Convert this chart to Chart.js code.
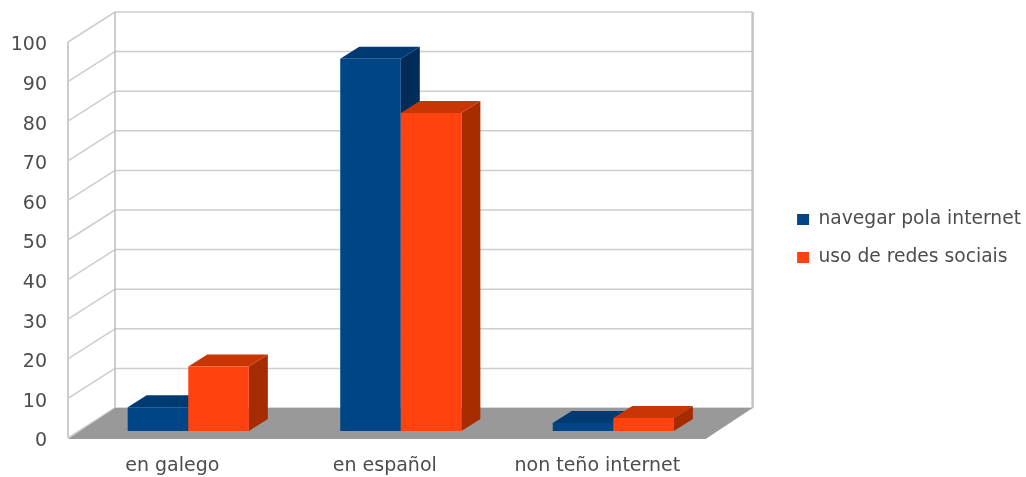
<!DOCTYPE html>
<html>
<head>
<meta charset="utf-8">
<title>navegar pola internet / uso de redes sociais</title>
<script src="https://cdn.jsdelivr.net/npm/chart.js"></script>
<style>
    body { margin: 0; background: #ffffff; }
    canvas { display: block; filter: blur(0.5px); }
</style>
</head>
<body>
<canvas id="chart" width="1026" height="477"></canvas>
<script>
const categories = ['en galego', 'en español', 'non teño internet'];
const navegar = [6, 94, 2];
const redes = [16.3, 80.3, 3.3];
const yTicks = [0, 10, 20, 30, 40, 50, 60, 70, 80, 90, 100];

// Fake 3D: the scales give the front plane, everything else is offset from it
const WALL = { dx: 47, dy: -30 };
const BAR_SHIFT = { dx: 14, dy: -7 };
const BAR_DEPTH = { dx: 19, dy: -12 };
const GRID = '#cdcdcd';
const FACES = [
    { top: '#003a73', side: '#002c5a' },
    { top: '#c93505', side: '#a62c00' }
];

function poly(ctx, pts, fill) {
    ctx.beginPath();
    pts.forEach((p, i) => i ? ctx.lineTo(p[0], p[1]) : ctx.moveTo(p[0], p[1]));
    ctx.closePath();
    ctx.fillStyle = fill;
    ctx.fill();
}

function line(ctx, x1, y1, x2, y2, color, width) {
    ctx.beginPath();
    ctx.moveTo(x1, y1);
    ctx.lineTo(x2, y2);
    ctx.strokeStyle = color;
    ctx.lineWidth = width;
    ctx.stroke();
}

const box3d = {
    id: 'box3d',
    beforeDatasetsDraw(chart) {
        const { ctx, scales: { x, y } } = chart;
        const left = x.left, right = x.right;
        const y0 = y.getPixelForValue(0);
        const yTop = y.getPixelForValue(100);

        // Walls, grid and floor
        yTicks.forEach(t => {
            const py = y.getPixelForValue(t);
            line(ctx, left, py, left + WALL.dx, py + WALL.dy, GRID, 1.5);
            line(ctx, left + WALL.dx, py + WALL.dy, right + WALL.dx, py + WALL.dy, GRID, 1.5);
        });
        line(ctx, left, yTop, left, y0, GRID, 2);
        line(ctx, left + WALL.dx, yTop + WALL.dy, left + WALL.dx, y0 + WALL.dy, '#bdbdbd', 1.5);
        line(ctx, right + WALL.dx, yTop + WALL.dy, right + WALL.dx, y0 + WALL.dy, '#c4c4c4', 2.5);
        poly(ctx, [
            [left, y0 + 1], [right, y0 + 1],
            [right + WALL.dx, y0 + WALL.dy], [left + WALL.dx, y0 + WALL.dy]
        ], '#999999');

        // Bars first series first, so the red front covers the blue side.
        // Side and top go under each front, which Chart.js draws.
        ctx.save();
        ctx.translate(BAR_SHIFT.dx, BAR_SHIFT.dy);
        chart.data.datasets.forEach((ds, i) => {
            const meta = chart.getDatasetMeta(i);
            meta.data.forEach(bar => {
                const l = bar.x - bar.width / 2, r = bar.x + bar.width / 2;
                poly(ctx, [
                    [r, bar.y], [r + BAR_DEPTH.dx, bar.y + BAR_DEPTH.dy],
                    [r + BAR_DEPTH.dx, bar.base + BAR_DEPTH.dy], [r, bar.base]
                ], FACES[i].side);
                poly(ctx, [
                    [l, bar.y], [l + BAR_DEPTH.dx, bar.y + BAR_DEPTH.dy],
                    [r + BAR_DEPTH.dx, bar.y + BAR_DEPTH.dy], [r, bar.y]
                ], FACES[i].top);
            });
            meta.controller.draw();
        });
        ctx.restore();
        return false; // already drawn, skip the default reversed pass
    }
};

new Chart(document.getElementById('chart'), {
    type: 'bar',
    data: {
        labels: categories,
        datasets: [
            { label: 'navegar pola internet', data: navegar, backgroundColor: '#004586' },
            { label: 'uso de redes sociais', data: redes, backgroundColor: '#ff420e' }
        ]
    },
    plugins: [box3d],
    options: {
        responsive: false,
        animation: false,
        layout: { padding: { top: 0, left: 0, right: -5, bottom: 0 } },
        datasets: { bar: { barPercentage: 1, categoryPercentage: 0.57 } },
        plugins: {
            tooltip: { enabled: false },
            legend: {
                position: 'right',
                maxWidth: 290,
                labels: {
                    boxWidth: 12,
                    boxHeight: 11,
                    padding: 19.5,
                    color: '#4d4d4d',
                    font: { family: 'DejaVu Sans', size: 18.7 }
                }
            }
        },
        scales: {
            x: {
                grid: { display: false },
                border: { display: false },
                ticks: { color: '#4d4d4d', font: { family: 'DejaVu Sans', size: 19 }, padding: 9, labelOffset: -2 },
                afterFit(scale) { scale.height = 39; }
            },
            y: {
                min: 0,
                max: 100,
                grid: { display: false },
                border: { display: false },
                ticks: {
                    stepSize: 10,
                    padding: 13,
                    labelOffset: 3.5,
                    color: '#4d4d4d',
                    font: { family: 'DejaVu Sans', size: 19 }
                },
                afterFit(scale) { scale.width = 68; }
            },
            // empty axes: room above the plot, and for the back wall before the legend
            topGap: {
                axis: 'x',
                position: 'top',
                grid: { display: false },
                border: { display: false },
                ticks: { display: false },
                afterFit(scale) { scale.height = 42; }
            },
            wallGap: {
                position: 'right',
                grid: { display: false },
                border: { display: false },
                ticks: { display: false },
                afterFit(scale) { scale.width = 72; }
            }
        }
    }
});
</script>
</body>
</html>
